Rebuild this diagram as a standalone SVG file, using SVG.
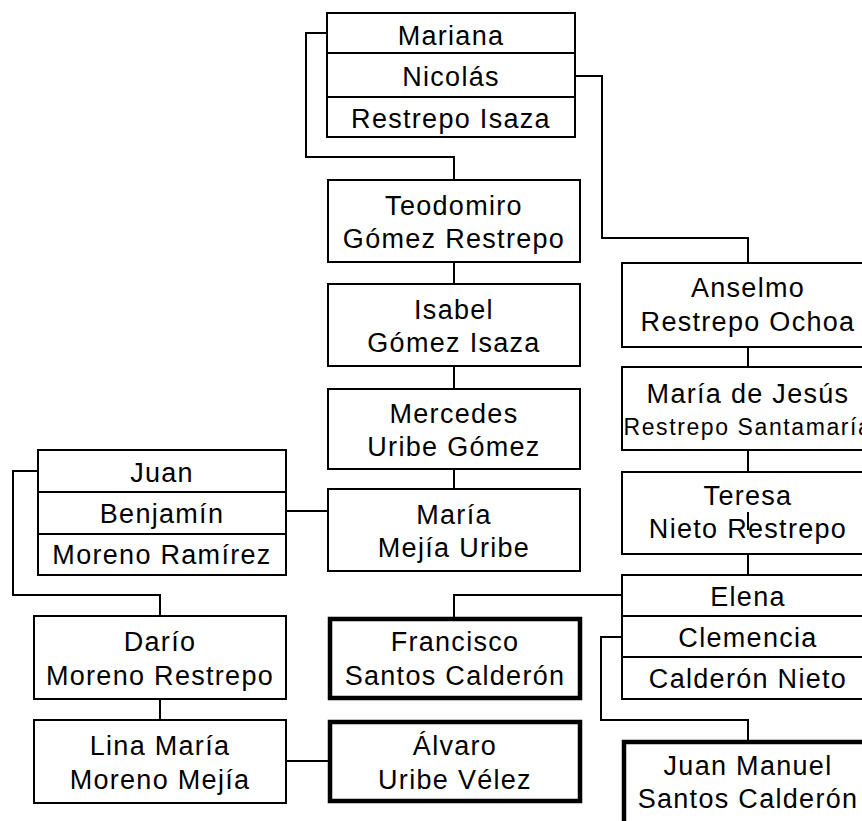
<svg xmlns="http://www.w3.org/2000/svg" width="862" height="821" viewBox="0 0 862 821">
<style>
.b{fill:#fff;stroke:#000;stroke-width:2}
.t{fill:#fff;stroke:#000;stroke-width:4.5}
.d{stroke:#000;stroke-width:2}
.c{fill:none;stroke:#000;stroke-width:2}
text{font-family:"Liberation Sans",Arimo,Arial,sans-serif;font-size:27px;letter-spacing:1.3px;text-anchor:middle;fill:#000}
.s{font-size:23px;letter-spacing:1.6px}
</style>
<rect width="862" height="821" fill="#fff"/>
<g id="mariana-nicolas">
<rect class="b" x="327" y="13" width="248" height="124"/>
<line class="d" x1="327" y1="53" x2="575" y2="53"/>
<line class="d" x1="327" y1="97" x2="575" y2="97"/>
<text x="451" y="45">Mariana</text>
<text x="451" y="86">Nicolás</text>
<text x="451" y="128">Restrepo Isaza</text>
</g>
<g id="teodomiro">
<rect class="b" x="328" y="180" width="252" height="82"/>
<text x="454" y="215">Teodomiro</text>
<text x="454" y="248">Gómez Restrepo</text>
</g>
<g id="isabel">
<rect class="b" x="328" y="284" width="252" height="82"/>
<text x="454" y="319">Isabel</text>
<text x="454" y="352">Gómez Isaza</text>
</g>
<g id="mercedes">
<rect class="b" x="328" y="389" width="252" height="80"/>
<text x="454" y="423">Mercedes</text>
<text x="454" y="456">Uribe Gómez</text>
</g>
<g id="maria">
<rect class="b" x="328" y="489" width="252" height="82"/>
<text x="454" y="524">María</text>
<text x="454" y="557">Mejía Uribe</text>
</g>
<g id="juan-benjamin">
<rect class="b" x="38" y="450" width="248" height="125"/>
<line class="d" x1="38" y1="492" x2="286" y2="492"/>
<line class="d" x1="38" y1="534" x2="286" y2="534"/>
<text x="162" y="482">Juan</text>
<text x="162" y="523">Benjamín</text>
<text x="162" y="564">Moreno Ramírez</text>
</g>
<g id="dario">
<rect class="b" x="34" y="616" width="252" height="83"/>
<text x="160" y="651">Darío</text>
<text x="160" y="685">Moreno Restrepo</text>
</g>
<g id="lina">
<rect class="b" x="34" y="720" width="252" height="83"/>
<text x="160" y="755">Lina María</text>
<text x="160" y="789">Moreno Mejía</text>
</g>
<g id="francisco">
<rect class="t" x="330" y="619" width="250" height="79"/>
<text x="455" y="651">Francisco</text>
<text x="455" y="685">Santos Calderón</text>
</g>
<g id="alvaro">
<rect class="t" x="330" y="722" width="250" height="79"/>
<text x="455" y="755">Álvaro</text>
<text x="455" y="789">Uribe Vélez</text>
</g>
<g id="anselmo">
<rect class="b" x="622" y="263" width="252" height="84"/>
<text x="748" y="297">Anselmo</text>
<text x="748" y="331">Restrepo Ochoa</text>
</g>
<g id="maria-de-jesus">
<rect class="b" x="622" y="367" width="252" height="83"/>
<text x="748" y="403">María de Jesús</text>
<text class="s" x="748" y="435">Restrepo Santamaría</text>
</g>
<g id="teresa">
<rect class="b" x="622" y="472" width="252" height="82"/>
<text x="748" y="505">Teresa</text>
<text x="748" y="538">Nieto Restrepo</text>
</g>
<g id="elena-clemencia">
<rect class="b" x="622" y="575" width="252" height="124"/>
<line class="d" x1="622" y1="616" x2="874" y2="616"/>
<line class="d" x1="622" y1="657" x2="874" y2="657"/>
<text x="748" y="606">Elena</text>
<text x="748" y="647">Clemencia</text>
<text x="748" y="688">Calderón Nieto</text>
</g>
<g id="juan-manuel">
<rect class="t" x="624" y="742" width="252" height="100"/>
<text x="748" y="775">Juan Manuel</text>
<text x="748" y="808">Santos Calderón</text>
</g>
<g id="connectors">
<path class="c" d="M327,33 H306 V157 H454 V180"/>
<path class="c" d="M575,76 H602 V238 H748 V263"/>
<path class="c" d="M454,262 V284"/>
<path class="c" d="M454,366 V389"/>
<path class="c" d="M454,469 V489"/>
<path class="c" d="M286,511 H328"/>
<path class="c" d="M38,471 H13 V595 H160 V616"/>
<path class="c" d="M160,699 V720"/>
<path class="c" d="M286,761 H328"/>
<path class="c" d="M748,347 V367"/>
<path class="c" d="M748,450 V472"/>
<path class="c" d="M748,554 V575"/>
<path class="c" d="M622,595 H454 V617"/>
<path class="c" d="M622,637 H601 V720 H748 V740"/>
<path class="c" d="M748,512 V530"/>
</g>
</svg>
